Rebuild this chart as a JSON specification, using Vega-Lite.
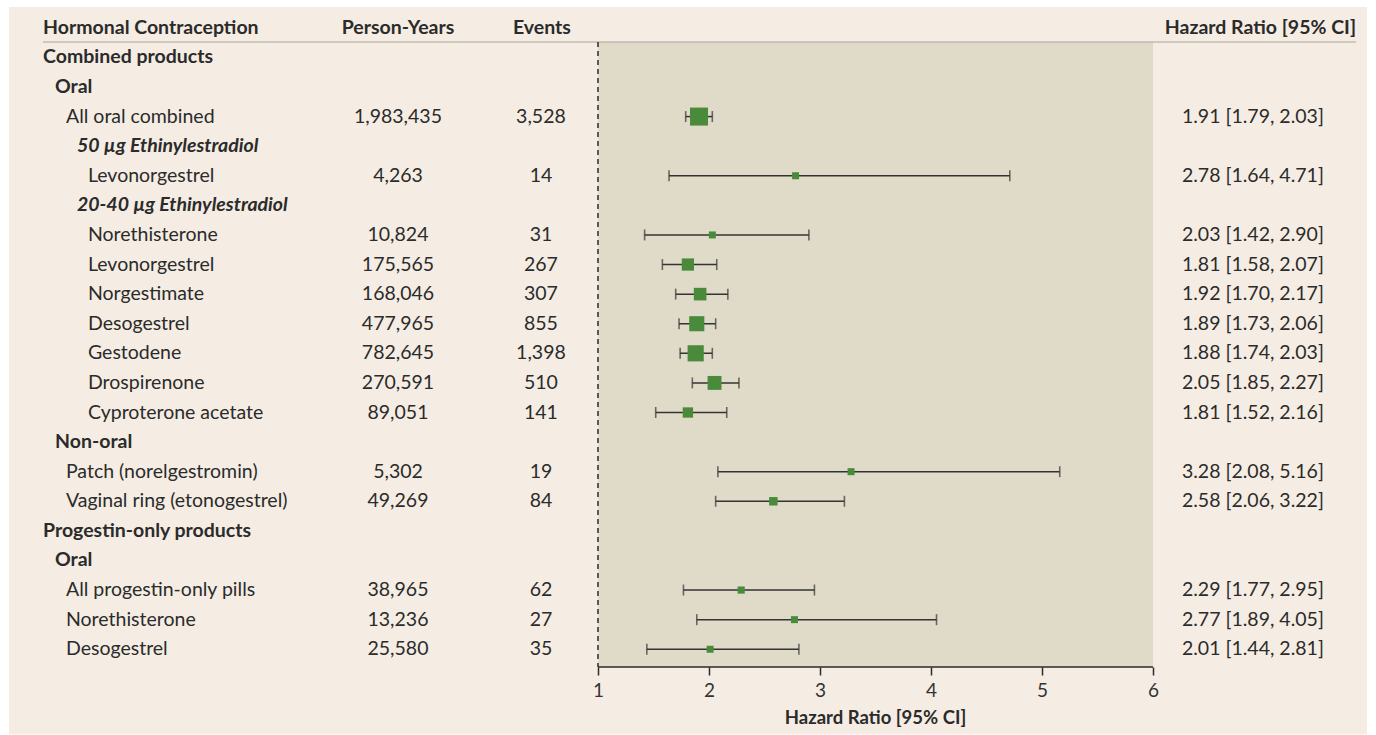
{
  "$schema": "https://vega.github.io/schema/vega-lite/v6.json",
  "width": 1313,
  "height": 654,
  "autosize": "none",
  "padding": {"left": 43, "top": 13, "right": 20, "bottom": 68},
  "background": "white",
  "config": {
    "view": {"stroke": null},
    "text": {"font": "Lato", "fontSize": 19.5, "color": "#2b2b2b"},
    "axisX": {"labelFont": "Lato", "labelFontSize": 19, "labelColor": "#333333", "labelPadding": 6, "tickSize": 8, "tickWidth": 1.5, "tickColor": "#2b2b2b", "domain": false, "grid": false, "zindex": 2}
  },
  "data": {
    "values": [
      {"id": 1, "label": "Combined products", "level": 0},
      {"id": 2, "label": "Oral", "level": 1},
      {"id": 3, "label": "All oral combined", "level": 2, "py": 1983435, "events": 3528, "hr": 1.91, "lo": 1.79, "hi": 2.03, "ci": "1.91 [1.79, 2.03]"},
      {"id": 4, "label": "50 µg Ethinylestradiol", "level": 3},
      {"id": 5, "label": "Levonorgestrel", "level": 4, "py": 4263, "events": 14, "hr": 2.78, "lo": 1.64, "hi": 4.71, "ci": "2.78 [1.64, 4.71]"},
      {"id": 6, "label": "20-40 µg Ethinylestradiol", "level": 3},
      {"id": 7, "label": "Norethisterone", "level": 4, "py": 10824, "events": 31, "hr": 2.03, "lo": 1.42, "hi": 2.90, "ci": "2.03 [1.42, 2.90]"},
      {"id": 8, "label": "Levonorgestrel", "level": 4, "py": 175565, "events": 267, "hr": 1.81, "lo": 1.58, "hi": 2.07, "ci": "1.81 [1.58, 2.07]"},
      {"id": 9, "label": "Norgestimate", "level": 4, "py": 168046, "events": 307, "hr": 1.92, "lo": 1.70, "hi": 2.17, "ci": "1.92 [1.70, 2.17]"},
      {"id": 10, "label": "Desogestrel", "level": 4, "py": 477965, "events": 855, "hr": 1.89, "lo": 1.73, "hi": 2.06, "ci": "1.89 [1.73, 2.06]"},
      {"id": 11, "label": "Gestodene", "level": 4, "py": 782645, "events": 1398, "hr": 1.88, "lo": 1.74, "hi": 2.03, "ci": "1.88 [1.74, 2.03]"},
      {"id": 12, "label": "Drospirenone", "level": 4, "py": 270591, "events": 510, "hr": 2.05, "lo": 1.85, "hi": 2.27, "ci": "2.05 [1.85, 2.27]"},
      {"id": 13, "label": "Cyproterone acetate", "level": 4, "py": 89051, "events": 141, "hr": 1.81, "lo": 1.52, "hi": 2.16, "ci": "1.81 [1.52, 2.16]"},
      {"id": 14, "label": "Non-oral", "level": 1},
      {"id": 15, "label": "Patch (norelgestromin)", "level": 2, "py": 5302, "events": 19, "hr": 3.28, "lo": 2.08, "hi": 5.16, "ci": "3.28 [2.08, 5.16]"},
      {"id": 16, "label": "Vaginal ring (etonogestrel)", "level": 2, "py": 49269, "events": 84, "hr": 2.58, "lo": 2.06, "hi": 3.22, "ci": "2.58 [2.06, 3.22]"},
      {"id": 17, "label": "Progestin-only products", "level": 0},
      {"id": 18, "label": "Oral", "level": 1},
      {"id": 19, "label": "All progestin-only pills", "level": 2, "py": 38965, "events": 62, "hr": 2.29, "lo": 1.77, "hi": 2.95, "ci": "2.29 [1.77, 2.95]"},
      {"id": 20, "label": "Norethisterone", "level": 2, "py": 13236, "events": 27, "hr": 2.77, "lo": 1.89, "hi": 4.05, "ci": "2.77 [1.89, 4.05]"},
      {"id": 21, "label": "Desogestrel", "level": 2, "py": 25580, "events": 35, "hr": 2.01, "lo": 1.44, "hi": 2.81, "ci": "2.01 [1.44, 2.81]"}
    ]
  },
  "layer": [
    {
      "data": {"values": [{}]},
      "mark": {"type": "rect", "color": "#f5ede3"},
      "encoding": {
        "x": {"datum": -4.306, "type": "quantitative", "title": null, "scale": {"domain": [-4, 7.829], "nice": false, "zero": false}, "axis": {"values": [1, 2, 3, 4, 5, 6], "format": "d", "title": null, "zindex": 2, "labelFontSize": 19, "tickSize": 8}},
        "x2": {"datum": 7.928},
        "y": {"datum": -0.703, "type": "quantitative", "axis": null, "scale": {"domain": [-0.5, 21.6], "nice": false, "zero": false, "reverse": true}},
        "y2": {"datum": 23.87}
      }
    },
    {
      "data": {"values": [{}]},
      "mark": {"type": "rect", "color": "#e0dbc8"},
      "encoding": {
        "x": {"datum": 1, "type": "quantitative"},
        "x2": {"datum": 6},
        "y": {"datum": 0.48, "type": "quantitative"},
        "y2": {"datum": 21.6}
      }
    },
    {
      "data": {"values": [{}]},
      "mark": {"type": "rule", "color": "#a8a49c", "strokeWidth": 1.2},
      "encoding": {
        "y": {"datum": 0.48, "type": "quantitative"}
      }
    },
    {
      "data": {"values": [{}]},
      "mark": {"type": "rule", "color": "#2b2b2b", "strokeWidth": 1.5, "strokeDash": [5, 4]},
      "encoding": {
        "x": {"datum": 1, "type": "quantitative"},
        "y": {"datum": 0.48, "type": "quantitative"},
        "y2": {"datum": 21.6}
      }
    },
    {
      "data": {"values": [{}]},
      "mark": {"type": "rule", "color": "#2b2b2b", "strokeWidth": 1.5},
      "encoding": {
        "x": {"datum": 1, "type": "quantitative"},
        "x2": {"datum": 6},
        "y": {"datum": 21.6, "type": "quantitative"}
      }
    },
    {
      "transform": [{"filter": "isValid(datum.hr)"}],
      "mark": {"type": "rule", "color": "#333333", "strokeWidth": 1.5},
      "encoding": {
        "x": {"field": "lo", "type": "quantitative"},
        "x2": {"field": "hi"},
        "y": {"field": "id", "type": "quantitative"}
      }
    },
    {
      "transform": [{"filter": "isValid(datum.hr)"}],
      "mark": {"type": "tick", "orient": "vertical", "color": "#333333", "size": 11, "thickness": 1.6},
      "encoding": {
        "x": {"field": "lo", "type": "quantitative"},
        "y": {"field": "id", "type": "quantitative"}
      }
    },
    {
      "transform": [{"filter": "isValid(datum.hr)"}],
      "mark": {"type": "tick", "orient": "vertical", "color": "#333333", "size": 11, "thickness": 1.6},
      "encoding": {
        "x": {"field": "hi", "type": "quantitative"},
        "y": {"field": "id", "type": "quantitative"}
      }
    },
    {
      "transform": [{"filter": "isValid(datum.hr)"}],
      "mark": {"type": "point", "shape": "square", "filled": true, "color": "#4a8b3b", "opacity": 1},
      "encoding": {
        "x": {"field": "hr", "type": "quantitative"},
        "y": {"field": "id", "type": "quantitative"},
        "size": {"field": "events", "type": "quantitative", "legend": null, "scale": {"type": "log", "domain": [60, 3528], "range": [49, 324], "clamp": true}}
      }
    },
    {
      "transform": [{"filter": "datum.level == 0"}],
      "mark": {"type": "text", "align": "left", "baseline": "middle", "fontWeight": "bold"},
      "encoding": {
        "x": {"datum": -4, "type": "quantitative"},
        "y": {"field": "id", "type": "quantitative"},
        "text": {"field": "label"}
      }
    },
    {
      "transform": [{"filter": "datum.level == 1"}],
      "mark": {"type": "text", "align": "left", "baseline": "middle", "fontWeight": "bold"},
      "encoding": {
        "x": {"datum": -3.892, "type": "quantitative"},
        "y": {"field": "id", "type": "quantitative"},
        "text": {"field": "label"}
      }
    },
    {
      "transform": [{"filter": "datum.level == 2"}],
      "mark": {"type": "text", "align": "left", "baseline": "middle"},
      "encoding": {
        "x": {"datum": -3.793, "type": "quantitative"},
        "y": {"field": "id", "type": "quantitative"},
        "text": {"field": "label"}
      }
    },
    {
      "transform": [{"filter": "datum.level == 3"}],
      "mark": {"type": "text", "align": "left", "baseline": "middle", "fontWeight": "bold", "fontStyle": "italic"},
      "encoding": {
        "x": {"datum": -3.694, "type": "quantitative"},
        "y": {"field": "id", "type": "quantitative"},
        "text": {"field": "label"}
      }
    },
    {
      "transform": [{"filter": "datum.level == 4"}],
      "mark": {"type": "text", "align": "left", "baseline": "middle"},
      "encoding": {
        "x": {"datum": -3.595, "type": "quantitative"},
        "y": {"field": "id", "type": "quantitative"},
        "text": {"field": "label"}
      }
    },
    {
      "transform": [{"filter": "isValid(datum.py)"}],
      "mark": {"type": "text", "align": "center", "baseline": "middle"},
      "encoding": {
        "x": {"datum": -0.802, "type": "quantitative"},
        "y": {"field": "id", "type": "quantitative"},
        "text": {"field": "py", "type": "quantitative", "format": ","}
      }
    },
    {
      "transform": [{"filter": "isValid(datum.events)"}],
      "mark": {"type": "text", "align": "center", "baseline": "middle"},
      "encoding": {
        "x": {"datum": 0.486, "type": "quantitative"},
        "y": {"field": "id", "type": "quantitative"},
        "text": {"field": "events", "type": "quantitative", "format": ","}
      }
    },
    {
      "transform": [{"filter": "isValid(datum.ci)"}],
      "mark": {"type": "text", "align": "center", "baseline": "middle"},
      "encoding": {
        "x": {"datum": 6.9, "type": "quantitative"},
        "y": {"field": "id", "type": "quantitative"},
        "text": {"field": "ci"}
      }
    },
    {
      "data": {"values": [{}]},
      "mark": {"type": "text", "align": "left", "baseline": "middle", "fontWeight": "bold"},
      "encoding": {
        "x": {"datum": -4, "type": "quantitative"},
        "y": {"datum": 0, "type": "quantitative"},
        "text": {"value": "Hormonal Contraception"}
      }
    },
    {
      "data": {"values": [{}]},
      "mark": {"type": "text", "align": "center", "baseline": "middle", "fontWeight": "bold"},
      "encoding": {
        "x": {"datum": -0.802, "type": "quantitative"},
        "y": {"datum": 0, "type": "quantitative"},
        "text": {"value": "Person-Years"}
      }
    },
    {
      "data": {"values": [{}]},
      "mark": {"type": "text", "align": "center", "baseline": "middle", "fontWeight": "bold"},
      "encoding": {
        "x": {"datum": 0.495, "type": "quantitative"},
        "y": {"datum": 0, "type": "quantitative"},
        "text": {"value": "Events"}
      }
    },
    {
      "data": {"values": [{}]},
      "mark": {"type": "text", "align": "right", "baseline": "middle", "fontWeight": "bold"},
      "encoding": {
        "x": {"datum": 7.829, "type": "quantitative"},
        "y": {"datum": 0, "type": "quantitative"},
        "text": {"value": "Hazard Ratio [95% CI]"}
      }
    },
    {
      "data": {"values": [{}]},
      "mark": {"type": "text", "align": "center", "baseline": "middle", "fontWeight": "bold", "fontSize": 18.5},
      "encoding": {
        "x": {"datum": 3.5, "type": "quantitative"},
        "y": {"datum": 23.33, "type": "quantitative"},
        "text": {"value": "Hazard Ratio [95% CI]"}
      }
    }
  ]
}
